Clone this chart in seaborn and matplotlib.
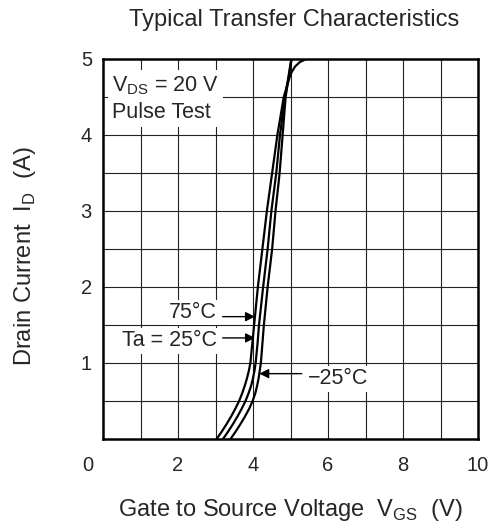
import matplotlib
matplotlib.use('Agg')
import matplotlib.pyplot as plt
import matplotlib.transforms as mtransforms
import seaborn as sns
import numpy as np

# curvas (Vgs em V, Id em A)
id_pts = [0.0, 0.1, 0.2, 0.3, 0.4, 0.5, 0.6, 0.7, 0.8, 0.9, 1.0, 1.25, 1.5, 2.0, 2.5, 3.0, 3.5, 4.0, 4.5]

vgs_75 = [3.03, 3.17, 3.30, 3.42, 3.53, 3.63, 3.71, 3.78, 3.84, 3.89, 3.93, 3.98, 4.03, 4.13, 4.25, 4.37, 4.51, 4.65, 4.82,
          4.91, 5.00, 5.12, 5.25, 5.42]
id_75 = id_pts + [4.65, 4.80, 4.90, 4.96, 5.00]

vgs_25 = [3.20, 3.34, 3.47, 3.59, 3.70, 3.80, 3.88, 3.95, 4.00, 4.04, 4.07, 4.12, 4.16, 4.27, 4.39, 4.49, 4.62, 4.72, 4.85,
          4.94, 5.02]
id_25 = id_pts + [4.75, 5.00]

vgs_m25 = [3.40, 3.54, 3.67, 3.79, 3.90, 3.99, 4.06, 4.11, 4.15, 4.18, 4.21, 4.25, 4.29, 4.39, 4.51, 4.60, 4.71, 4.79, 4.87,
           4.95, 5.03]
id_m25 = id_pts + [4.75, 5.00]

xticks = [0, 2, 4, 6, 8, 10]
yticks = [1, 2, 3, 4, 5]

sns.set_theme(style='white')
plt.rcParams['font.family'] = ['Liberation Sans', 'DejaVu Sans']
plt.rcParams['mathtext.fontset'] = 'custom'
plt.rcParams['mathtext.rm'] = 'Liberation Sans'

fig = plt.figure(figsize=(4.96, 5.28), dpi=100)
ax = fig.add_axes([103 / 496, 1 - 439 / 528, 375 / 496, 380 / 528])

# grade fina
for v in np.arange(1, 10):
    ax.axvline(v, color='#222222', lw=0.8, zorder=1)
for v in np.arange(0.5, 5, 0.5):
    ax.axhline(v, color='#222222', lw=0.8, zorder=1)

for xs, ys in [(vgs_75, id_75), (vgs_25, id_25), (vgs_m25, id_m25)]:
    sns.lineplot(x=xs, y=ys, ax=ax, color='black', lw=1.6, sort=False,
                 estimator=None, zorder=3)

ax.set_xlim(0, 10)
ax.set_ylim(0, 5)
ax.set_xticks(xticks)
ax.set_yticks(yticks)
ax.tick_params(length=0, labelsize=14.5)
ax.tick_params(axis='x', pad=12)
ax.tick_params(axis='y', pad=8)
# o "0" fica no canto, deslocado para a esquerda
off = mtransforms.ScaledTranslation(-15 / 100, 0, fig.dpi_scale_trans)
lbl0 = ax.get_xticklabels()[0]
lbl0.set_transform(lbl0.get_transform() + off)

for s in ax.spines.values():
    s.set_visible(True)
    s.set_color('black')
    s.set_linewidth(1.8)
    s.set_zorder(5)

fig.text(294 / 496, 1 - 20 / 528, 'Typical Transfer Characteristics',
         ha='center', va='center', fontsize=17)
ax.set_xlabel(r'Gate to Source Voltage  V$_{\mathregular{GS}}$  (V)', fontsize=17, va='center')
ax.xaxis.set_label_coords(0.5, (439 - 510) / 380)
ax.set_ylabel(r'Drain Current  I$_{\mathregular{D}}$  (A)', fontsize=17, va='center')
ax.yaxis.set_label_coords((25 - 103) / 375, 0.48)

box = dict(facecolor='white', edgecolor='none', pad=1.5)
ax.text(0.25, 4.80, 'V$_{\\mathregular{DS}}$ = 20 V\nPulse Test', fontsize=15.5,
        ha='left', va='top', linespacing=1.3, bbox=dict(facecolor='white', edgecolor='none', pad=3), zorder=4)

ax.text(3.03, 1.66, '75°C', fontsize=15.5, ha='right', va='center', bbox=box, zorder=4)
ax.text(3.03, 1.29, 'Ta = 25°C', fontsize=15.5, ha='right', va='center', bbox=box, zorder=4)
ax.text(5.47, 0.79, '\u221225°C', fontsize=15.5, ha='left', va='center', bbox=box, zorder=4)

arrow = dict(arrowstyle='-|>', color='black', lw=1.0, mutation_scale=14, shrinkA=0, shrinkB=0)
y_a = 1.61
ax.annotate('', xy=(np.interp(y_a, id_75, vgs_75), y_a), xytext=(3.19, y_a), arrowprops=arrow, zorder=4)
y_b = 1.33
ax.annotate('', xy=(np.interp(y_b, id_25, vgs_25) - 0.08, y_b), xytext=(3.19, y_b), arrowprops=arrow, zorder=4)
y_c = 0.86
ax.annotate('', xy=(np.interp(y_c, id_m25, vgs_m25), y_c), xytext=(5.30, y_c), arrowprops=arrow, zorder=4)

fig.savefig('out.png', dpi=100)
